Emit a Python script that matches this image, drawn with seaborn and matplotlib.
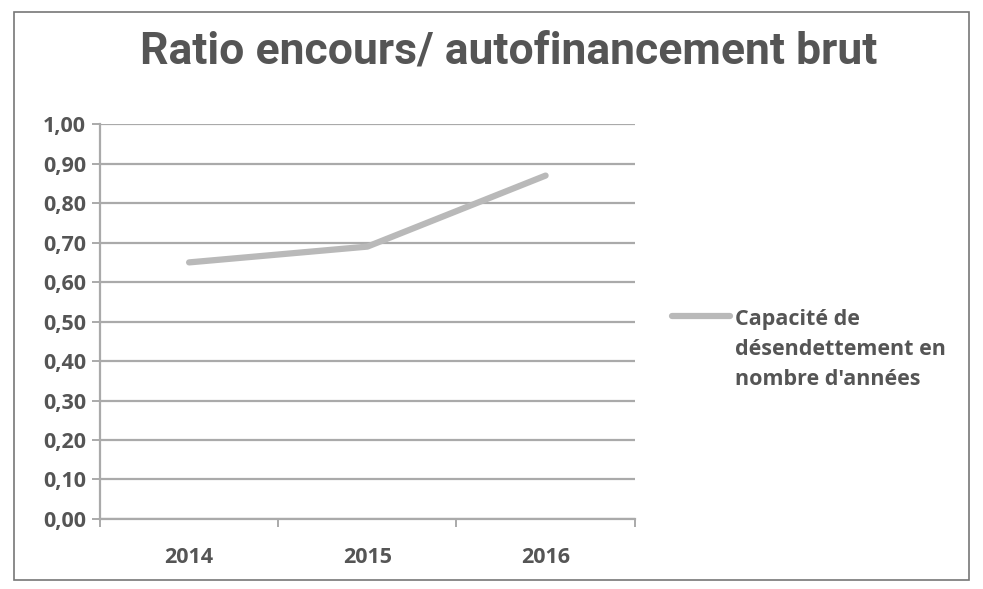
import matplotlib
matplotlib.use("Agg")
import matplotlib.pyplot as plt
import seaborn as sns
import pandas as pd
from matplotlib.patches import Rectangle
from matplotlib import font_manager

years = ["2014", "2015", "2016"]
ratio = [0.65, 0.69, 0.87]
series_name = "Capacité de\ndésendettement en\nnombre d'années"
title = "Ratio encours/ autofinancement brut"
yticks = [0.0, 0.1, 0.2, 0.3, 0.4, 0.5, 0.6, 0.7, 0.8, 0.9, 1.0]

sns.set_style("white")
plt.rcParams['font.family'] = ['Open Sans', 'DejaVu Sans']

names = {f.name for f in font_manager.fontManager.ttflist}
title_family = ['Liberation Sans Narrow', 'Open Sans', 'DejaVu Sans'] if 'Liberation Sans Narrow' in names else ['Roboto', 'DejaVu Sans']

df = pd.DataFrame({"Année": years, "Ratio": ratio})

fig = plt.figure(figsize=(9.83, 5.89), dpi=100)
ax = fig.add_axes([0.1017, 0.119, 0.544, 0.670])

txt = "#555555"
gridc = "#aaaaaa"
linec = "#b9b9b9"

for v in yticks:
    ax.axhline(v, color=gridc, lw=1.6, zorder=0)

sns.lineplot(data=df, x="Année", y="Ratio", ax=ax, color=linec, lw=4.5,
             label=series_name, sort=False, zorder=3)

ax.set_xlim(-0.5, 2.5)
ax.set_ylim(0, 1.0)
ax.set_yticks(yticks)
ax.set_yticklabels([f"{v:.2f}".replace(".", ",") for v in yticks])
ax.set_xticks(range(len(years)))
ax.set_xticklabels(years)
ax.set_xticks([-0.5, 0.5, 1.5, 2.5], minor=True)
ax.set_xlabel("")
ax.set_ylabel("")

for s in ["top", "right"]:
    ax.spines[s].set_visible(False)
ax.spines["left"].set_color(gridc)
ax.spines["left"].set_linewidth(1.6)
ax.spines["bottom"].set_color(gridc)
ax.spines["bottom"].set_linewidth(1.6)

ax.tick_params(axis="y", which="major", length=6, width=1.4, color=gridc,
               labelsize=15.5, labelcolor=txt, pad=4, left=True)
ax.tick_params(axis="x", which="major", length=0, labelsize=15.5, labelcolor=txt, pad=20)
ax.tick_params(axis="x", which="minor", length=6, width=1.4, color=gridc, bottom=True)
for lab in ax.get_yticklabels() + ax.get_xticklabels():
    lab.set_fontweight("bold")

leg = ax.legend(loc="center left", bbox_to_anchor=(1.069, 0.43), frameon=False,
                handlelength=2.7, handletextpad=0.25, borderpad=0, borderaxespad=0,
                prop={"weight": "bold", "size": 15.5})
for t in leg.get_texts():
    t.set_color(txt)
    t.set_linespacing(1.55)
# align the legend key with the first line of the label
for ln in leg.get_lines():
    yd = ln.get_ydata()
    ln.set_ydata([y + 24.0 for y in yd])

fig.text(0.517, 0.912, title, ha="center", va="center", fontsize=32,
         fontweight="bold", color=txt, family=title_family)

fig.patches.append(Rectangle((0.014, 0.015), 0.972, 0.965, transform=fig.transFigure,
                             fill=False, edgecolor="#777777", lw=1.2))

fig.savefig("out.png", dpi=100)
